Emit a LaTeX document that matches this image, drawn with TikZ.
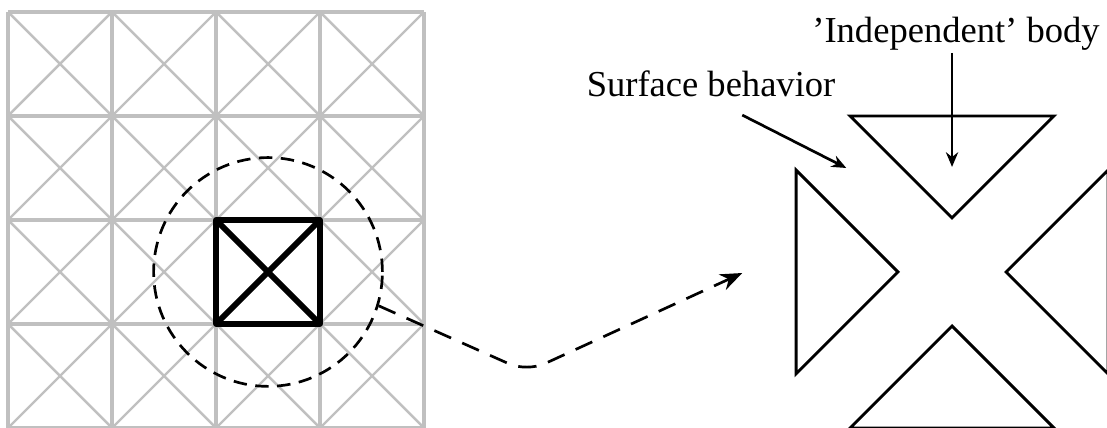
\documentclass[tikz,border=0pt]{standalone}
\usepackage{fontspec}
\setmainfont{Liberation Serif}
\usetikzlibrary{arrows.meta,calc,positioning}
\definecolor{meshgray}{HTML}{C0C0C0}

\begin{document}
\begin{tikzpicture}[x=1.5cm,y=1.5cm,font=\fontsize{15}{18}\selectfont,
    meshline/.style={meshgray,line width=1.6pt},
    meshdiag/.style={meshgray,line width=1pt},
    element/.style={line width=2.4pt,line join=round,line cap=round},
    piece/.style={line width=1.2pt,line join=miter},
    zoomdash/.style={line width=1.1pt,dash pattern=on 5.5pt off 3.5pt},
    linkdash/.style={line width=1.1pt,dash pattern=on 7.5pt off 5pt},
    pointer/.style={-{Stealth[length=6pt,width=5pt]},line width=1.1pt},
    label/.style={anchor=base,inner sep=1pt}]

    \useasboundingbox (-0.077,0) rectangle (10.567,4.115);

    \foreach \i in {0,...,3} {
      \foreach \j in {0,...,3}
        \draw[meshdiag] (\i,\j) -- ++(1,1) (\i+1,\j) -- ++(-1,1);
    }
    \foreach \k in {0,...,4} {
      \draw[meshline] (\k,0) -- (\k,4);
      \draw[meshline] (0,\k) -- (4,\k);
    }
    \draw[element] (2,1) rectangle (3,2) (2,1) -- (3,2) (2,2) -- (3,1);
    \node[draw,zoomdash,circle,minimum size=3.3cm,inner sep=0pt] (lens) at (2.5,1.5) {};

    \coordinate (bend) at (4.99,0.54);
    \coordinate (target) at (7.06,1.49);
    \draw[linkdash,rounded corners=8pt,-{Stealth[length=9pt,width=7pt]}]
      (lens.-17) -- (bend) -- (target);

    \coordinate (mid) at (9.077,1.5);
    \begin{scope}[shift={(mid)}]
      \foreach \a in {0,90,180,270}
        \draw[piece,rotate=\a] (-0.98,1.5) -- (0,0.52) -- (0.98,1.5) -- cycle;
    \end{scope}

    \node[label] (indep) at (9.115,3.71) {'Independent' body};
    \node[label] (surf) at (6.76,3.19) {Surface behavior};
    \coordinate (indeptip) at (9.077,2.51);
    \coordinate (surftip) at (8.06,2.5);
    \draw[pointer] (indep.south -| indeptip) -- (indeptip);
    \draw[pointer] ([shift={(0.30,-0.15)}]surf.south) -- (surftip);
  \end{tikzpicture}
\end{document}
